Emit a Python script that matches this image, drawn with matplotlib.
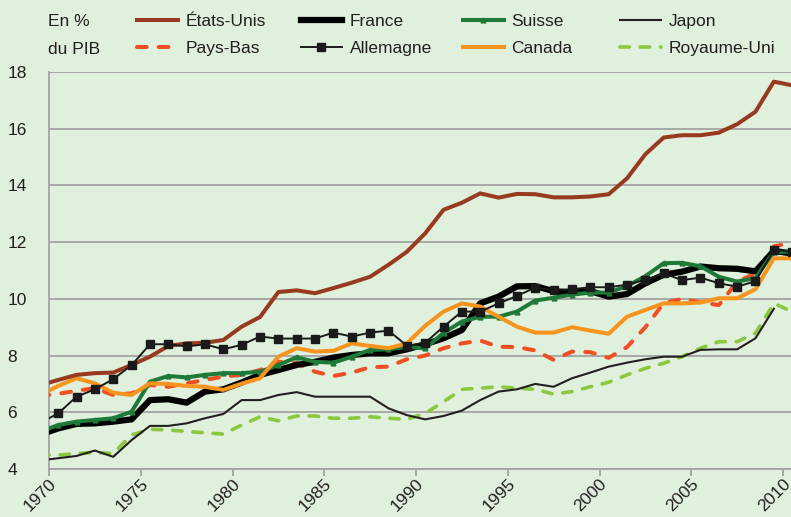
import matplotlib
matplotlib.use('Agg')
import matplotlib.pyplot as plt
import matplotlib.transforms as mtransforms
import numpy as np

years = list(range(1969, 2011))

etats_unis = [6.95, 7.14, 7.32, 7.38, 7.40, 7.67, 7.96, 8.34, 8.43, 8.45, 8.55,
              9.02, 9.36, 10.24, 10.30, 10.20, 10.38, 10.57, 10.78, 11.20, 11.66,
              12.31, 13.14, 13.39, 13.72, 13.57, 13.70, 13.69, 13.58, 13.58, 13.61,
              13.69, 14.25, 15.10, 15.69, 15.77, 15.77, 15.86, 16.16, 16.60, 17.66, 17.53]
pays_bas = [6.57, 6.65, 6.76, 6.85, 6.61, 6.67, 6.96, 6.90, 7.02, 7.14, 7.26,
            7.32, 7.49, 7.78, 7.73, 7.43, 7.28, 7.40, 7.59, 7.61, 7.87,
            8.00, 8.26, 8.43, 8.53, 8.31, 8.30, 8.18, 7.85, 8.14, 8.12,
            7.92, 8.30, 9.00, 9.85, 10.00, 9.88, 9.78, 10.60, 10.90, 11.85, 11.98]
france = [5.21, 5.43, 5.59, 5.61, 5.67, 5.75, 6.43, 6.46, 6.34, 6.73, 6.81,
          7.05, 7.32, 7.49, 7.67, 7.78, 7.93, 8.02, 8.08, 8.08, 8.22,
          8.40, 8.61, 8.90, 9.84, 10.08, 10.44, 10.45, 10.27, 10.22, 10.27,
          10.08, 10.17, 10.55, 10.85, 10.96, 11.14, 11.08, 11.06, 10.97, 11.69, 11.60]
allemagne = [5.62, 5.96, 6.55, 6.81, 7.17, 7.66, 8.40, 8.40, 8.32, 8.40, 8.22,
             8.38, 8.67, 8.60, 8.60, 8.60, 8.81, 8.67, 8.81, 8.88, 8.35,
             8.45, 9.02, 9.55, 9.55, 9.84, 10.10, 10.40, 10.31, 10.34, 10.41,
             10.41, 10.50, 10.67, 10.90, 10.66, 10.75, 10.55, 10.43, 10.62, 11.72, 11.66]
suisse = [5.31, 5.55, 5.67, 5.73, 5.79, 6.02, 7.08, 7.28, 7.23, 7.32, 7.38,
          7.38, 7.43, 7.67, 7.94, 7.78, 7.75, 7.96, 8.20, 8.22, 8.31,
          8.25, 8.80, 9.20, 9.37, 9.37, 9.55, 9.94, 10.04, 10.15, 10.22,
          10.22, 10.45, 10.80, 11.26, 11.27, 11.15, 10.78, 10.61, 10.73, 11.66, 11.66]
canada = [6.60, 6.93, 7.20, 7.02, 6.69, 6.61, 7.02, 7.00, 6.93, 6.90, 6.79,
          7.01, 7.20, 7.96, 8.26, 8.14, 8.17, 8.43, 8.34, 8.26, 8.43,
          9.05, 9.55, 9.84, 9.73, 9.37, 9.02, 8.81, 8.81, 9.00, 8.88,
          8.77, 9.37, 9.61, 9.84, 9.84, 9.87, 10.02, 10.02, 10.34, 11.43, 11.43]
japon = [4.30, 4.38, 4.46, 4.65, 4.43, 5.02, 5.52, 5.52, 5.61, 5.79, 5.94,
         6.43, 6.43, 6.61, 6.71, 6.55, 6.55, 6.55, 6.55, 6.14, 5.90,
         5.75, 5.87, 6.06, 6.43, 6.73, 6.81, 7.00, 6.90, 7.20, 7.40,
         7.61, 7.75, 7.87, 7.96, 7.96, 8.20, 8.22, 8.22, 8.61, 9.65, np.nan]
royaume_uni = [4.49, 4.49, 4.55, 4.58, 4.55, 5.20, 5.40, 5.38, 5.32, 5.28, 5.23,
               5.55, 5.84, 5.70, 5.87, 5.87, 5.79, 5.79, 5.84, 5.79, 5.75,
               5.96, 6.37, 6.81, 6.85, 6.90, 6.85, 6.81, 6.64, 6.73, 6.90,
               7.06, 7.32, 7.55, 7.73, 7.96, 8.26, 8.49, 8.49, 8.79, 9.84, 9.55]

xticks = list(range(1970, 2011, 5))
yticks = list(range(4, 19, 2))

bg = '#dff0dd'
grid = '#a3a3a3'
txt = '#231f20'
plt.rcParams['font.family'] = ['Liberation Sans', 'DejaVu Sans']
fs = 12.5

fig = plt.figure(figsize=(7.91, 5.17), dpi=100, facecolor=bg)
W, H = 791, 517
ax = fig.add_axes([49 / W, (H - 469) / H, (W - 49) / W, (469 - 72) / H])
ax.set_facecolor(bg)

x = np.array(years) + 0.5

h_nl, = ax.plot(x, pays_bas, color='#f04e23', lw=2.9, dashes=(2.4, 3.0),
                dash_capstyle='round', zorder=3)
h_uk, = ax.plot(x, royaume_uni, color='#8dc63f', lw=2.6, dashes=(2.6, 3.0),
                dash_capstyle='round', zorder=3)
h_jp, = ax.plot(x, japon, color=txt, lw=1.5, zorder=3)
h_fr, = ax.plot(x, france, color='black', lw=4.5, zorder=4)
h_ch, = ax.plot(x, suisse, color='#1f7a3a', lw=2.9, marker='^', ms=3.5, zorder=5)
h_ca, = ax.plot(x, canada, color='#f7941d', lw=2.9, zorder=5)
h_us, = ax.plot(x, etats_unis, color='#983a1f', lw=2.9, zorder=6)
h_de, = ax.plot(x, allemagne, color='#1a1a1a', lw=1.4, marker='s', ms=5.5, zorder=7)

ax.set_xlim(1970, 1970 + (W - 49) / 18.35)
ax.set_ylim(4, 18)
ax.set_xticks(xticks)
ax.set_yticks(yticks)
ax.grid(axis='y', color=grid, lw=1.3)
ax.set_axisbelow(True)
for s in ['top', 'right']:
    ax.spines[s].set_visible(False)
for s in ['left', 'bottom']:
    ax.spines[s].set_color(grid)
    ax.spines[s].set_linewidth(1.3)
ax.tick_params(axis='y', length=0, pad=30, labelsize=fs, colors=txt)
ax.tick_params(axis='x', length=5, width=1.3, color=grid, labelsize=fs,
               labelcolor=txt, pad=4)
for lab in ax.get_yticklabels():
    lab.set_horizontalalignment('left')
shift = mtransforms.ScaledTranslation(5 / 100, 0, fig.dpi_scale_trans)
for lab in ax.get_xticklabels():
    lab.set_rotation(45)
    lab.set_rotation_mode('anchor')
    lab.set_horizontalalignment('right')
    lab.set_verticalalignment('center')
    lab.set_transform(lab.get_transform() + shift)

fig.text(48 / W, 1 - 22 / H, 'En %', fontsize=fs, va='center', ha='left', color=txt)
fig.text(48 / W, 1 - 49 / H, 'du PIB', fontsize=fs, va='center', ha='left', color=txt)

columns = [
    (137, [h_us, h_nl], ['États-Unis', 'Pays-Bas']),
    (301, [h_fr, h_de], ['France', 'Allemagne']),
    (463, [h_ch, h_ca], ['Suisse', 'Canada']),
    (620, [h_jp, h_uk], ['Japon', 'Royaume-Uni']),
]
for left, hs, ls in columns:
    leg = fig.legend(hs, ls, loc='center left',
                     bbox_to_anchor=(left / W, 1 - 35 / H), frameon=False,
                     fontsize=fs, handlelength=2.35, handletextpad=0.45,
                     labelspacing=0.68, borderpad=0, borderaxespad=0)
    for t in leg.get_texts():
        t.set_color(txt)

fig.savefig('out.png', dpi=100, facecolor=bg)
